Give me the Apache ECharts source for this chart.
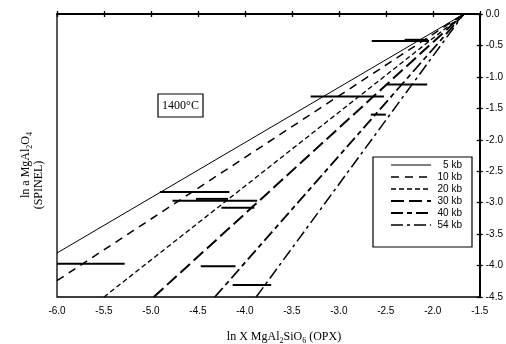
<!DOCTYPE html>
<html><head><meta charset="utf-8">
<script src="https://cdn.jsdelivr.net/npm/echarts@6/dist/echarts.min.js"></script>
<style>html,body{margin:0;padding:0;background:#fff}#c{width:506px;height:344px}</style>
</head><body><div id="c"></div>
<script>
// ---- data ----
const pressureNames = ['5 kb', '10 kb', '20 kb', '30 kb', '40 kb', '54 kb'];
const lineStartX = [-6.0, -6.0, -5.5, -4.97, -4.32, -3.88];
const lineStartY = [-3.80, -4.24, -4.5, -4.5, -4.5, -4.5];
const convergeX = -1.67;
const convergeY = 0.0;
const barY    = [-3.97, -2.83, -2.97, -2.94, -3.08, -4.01, -4.31, -0.43, -0.41, -1.31, -1.12, -1.60];
const barXMin = [-6.00, -4.905, -4.77, -4.52, -4.25, -4.47, -4.13, -2.65, -2.30, -3.30, -2.49, -2.66];
const barXMax = [-5.28, -4.165, -3.87, -4.18, -3.90, -4.10, -3.72, -2.04, -2.05, -2.52, -2.06, -2.50];
const xMin = -6.0, xMax = -1.5, xStep = 0.5;
const yMin = -4.5, yMax = 0.0, yStep = 0.5;
const tempLabel = '1400°C';

// ---- styles ----
const lineStyles = [
  {type: 'solid', width: 1},
  {type: [8, 6], width: 1.5},
  {type: [5, 3], width: 1.3},
  {type: [13, 5], width: 2},
  {type: [12, 4, 5, 4], width: 1.8},
  {type: [12, 4, 3, 4], width: 1.5}
];
const serif = "'Liberation Serif', 'DejaVu Serif', serif";
const sans = "'Liberation Sans', Arial, sans-serif";

const chart = echarts.init(document.getElementById('c'), null, {renderer: 'canvas'});

const series = [];
pressureNames.forEach((n, i) => {
  series.push({
    name: n, type: 'line', xAxisIndex: 0, yAxisIndex: 0,
    symbol: 'none', showSymbol: false, silent: true, animation: false,
    data: [[lineStartX[i], lineStartY[i]], [convergeX, convergeY]],
    lineStyle: Object.assign({color: '#000'}, lineStyles[i]),
    itemStyle: {color: '#000'}
  });
});
barY.forEach((y, i) => {
  series.push({
    name: 'bar' + i, type: 'line', xAxisIndex: 0, yAxisIndex: 0,
    symbol: 'none', silent: true, animation: false,
    data: [[barXMin[i], y], [barXMax[i], y]],
    lineStyle: {color: '#000', width: 2}
  });
});

const axisCommonX = {type: 'value', min: xMin, max: xMax, interval: xStep, position: 'bottom', splitLine: {show: false}};
const axisCommonY = {type: 'value', min: yMin, max: yMax, interval: yStep, position: 'right', splitLine: {show: false}};

chart.setOption({
  animation: false,
  backgroundColor: '#fff',
  grid: {left: 57, top: 14, width: 424.5, height: 283, show: true, borderColor: '#000', borderWidth: 1.3, backgroundColor: 'transparent'},
  xAxis: [
    Object.assign({}, axisCommonX, {
      axisLine: {lineStyle: {color: '#000', width: 2}},
      axisTick: {inside: false, length: 3, lineStyle: {color: '#000', width: 1.3}},
      axisLabel: {color: '#000', fontSize: 10, fontFamily: sans, margin: 9, formatter: v => v.toFixed(1)}
    }),
    Object.assign({}, axisCommonX, {
      axisLine: {show: false},
      axisTick: {inside: true, length: 3, lineStyle: {color: '#000', width: 1.3}},
      axisLabel: {show: false}
    })
  ],
  yAxis: [
    Object.assign({}, axisCommonY, {
      axisLine: {lineStyle: {color: '#000', width: 2}},
      axisTick: {inside: false, length: 3, lineStyle: {color: '#000', width: 1.3}},
      axisLabel: {color: '#000', fontSize: 10, fontFamily: sans, margin: 6, formatter: v => v.toFixed(1)}
    }),
    Object.assign({}, axisCommonY, {
      axisLine: {show: false},
      axisTick: {inside: true, length: 3, lineStyle: {color: '#000', width: 1.3}},
      axisLabel: {show: false}
    })
  ],
  legend: {
    data: pressureNames, orient: 'vertical', left: 390, top: 159, padding: 0,
    itemWidth: 40, itemHeight: 12, itemGap: 0, selectedMode: false,
    itemStyle: {opacity: 0, borderWidth: 0},
    lineStyle: {width: 'inherit'},
    formatter: name => '{a|' + name + '}',
    textStyle: {color: '#000', fontSize: 10, fontFamily: sans, lineHeight: 12,
      rich: {a: {width: 26, align: 'right', fontSize: 10, fontFamily: sans, color: '#000'}}}
  },
  graphic: [
    {type: 'rect', z: -1, shape: {x: 373, y: 157, width: 99, height: 90}, style: {fill: '#fff', stroke: '#000', lineWidth: 1.2}},
    {type: 'rect', shape: {x: 158, y: 94, width: 45, height: 23}, style: {fill: '#fff', stroke: '#000', lineWidth: 1.2}},
    {type: 'text', x: 180.5, y: 105.5, style: {text: tempLabel, font: '12px ' + serif, fill: '#000', textAlign: 'center', textVerticalAlign: 'middle'}},
    {type: 'text', x: 284, y: 337, style: {
      text: 'ln X MgAl{s|2}SiO{s|6} (OPX)', fill: '#000', align: 'center', verticalAlign: 'middle',
      fontFamily: serif, fontSize: 12, lineHeight: 16,
      rich: {s: {fontSize: 8, lineHeight: 8, verticalAlign: 'bottom', fontFamily: serif}}
    }},
    {type: 'text', x: 26, y: 165, rotation: Math.PI / 2, style: {
      text: 'ln a MgAl{s|2}O{s|4}', fill: '#000', align: 'center', verticalAlign: 'middle',
      fontFamily: serif, fontSize: 12, lineHeight: 16,
      rich: {s: {fontSize: 8, lineHeight: 8, verticalAlign: 'bottom', fontFamily: serif}}
    }},
    {type: 'text', x: 39, y: 185, rotation: Math.PI / 2, style: {
      text: '(SPINEL)', fill: '#000', align: 'center', verticalAlign: 'middle',
      fontFamily: serif, fontSize: 12
    }}
  ],
  series: series
});
</script>
</body></html>
